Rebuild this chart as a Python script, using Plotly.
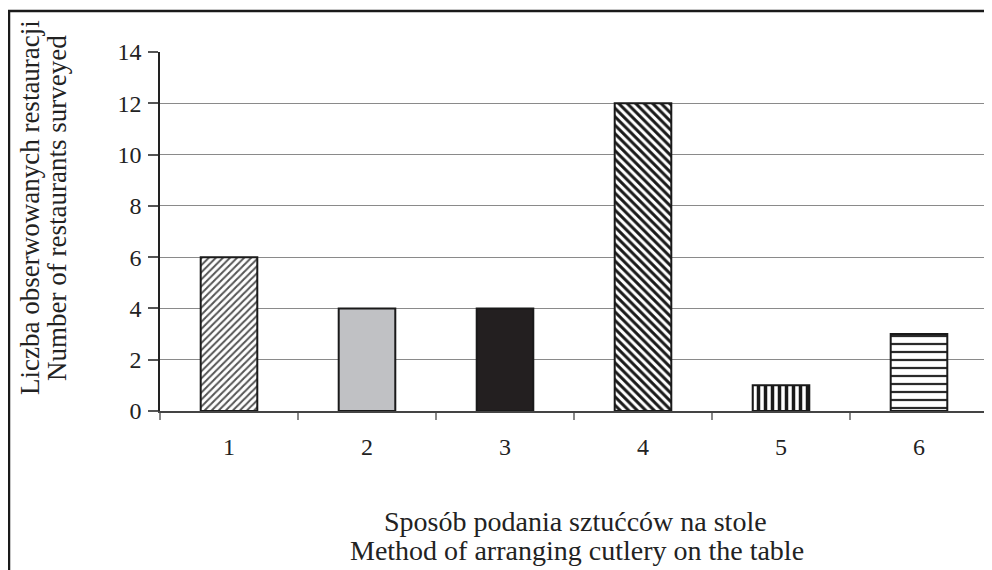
import plotly.graph_objects as go

categories = ["1", "2", "3", "4", "5", "6"]
values = [6, 4, 4, 12, 1, 3]
y_ticks = [0, 2, 4, 6, 8, 10, 12, 14]

pattern_shapes = ["/", "", "", "\\", "|", "-"]
pattern_sizes = [5, 8, 8, 6, 7, 8]
pattern_solidity = [0.4, 0.3, 0.3, 0.5, 0.5, 0.28]
pattern_fg = ["#555555", "#c0c1c4", "#231f20", "#1a1a1a", "#1a1a1a", "#2a2a2a"]
fill_colors = ["white", "#c0c1c4", "#231f20", "white", "white", "white"]

# page has an 8px body margin; figure coordinates are page coordinates minus 8
OFF = 8
W, H = 992 - OFF, 570 - OFF
L, T = 160 - OFF, 52 - OFF
Rpx, Bpx = 988 - OFF, 411 - OFF
pw, ph = Rpx - L, Bpx - T


def px_x(x):
    return (x - OFF - L) / pw


def px_y(y):
    return (Bpx - (y - OFF)) / ph


fig = go.Figure()
for c, v, s, sz, so, fg, fc in zip(categories, values, pattern_shapes, pattern_sizes,
                                   pattern_solidity, pattern_fg, fill_colors):
    fig.add_trace(go.Bar(
        x=[c], y=[v], width=0.41,
        marker=dict(
            color=fc,
            line=dict(color="#1a1a1a", width=2),
            pattern=dict(shape=s, size=sz, solidity=so, fgcolor=fg, fgopacity=1,
                         fillmode="overlay"),
        ),
        showlegend=False,
    ))

font = "Liberation Serif, Times New Roman, serif"
fig.update_layout(
    width=W, height=H,
    margin=dict(l=L, r=W - Rpx, t=T, b=H - Bpx, autoexpand=False),
    paper_bgcolor="white", plot_bgcolor="white",
    font=dict(family=font, size=24, color="#222222"),
    barmode="overlay",
    xaxis=dict(
        type="category", categoryorder="array", categoryarray=categories,
        showgrid=False, showline=True, linecolor="#444444", linewidth=2,
        ticks="outside", tickson="boundaries", ticklen=7, tickcolor="#888888", tickwidth=2,
        tickfont=dict(size=24), range=[-0.5, 5.5], ticklabelstandoff=13,
    ),
    yaxis=dict(
        range=[0, 14], tickvals=y_ticks, showgrid=True, gridcolor="#8a8a8a", gridwidth=1,
        showline=True, linecolor="#222222", linewidth=1.5,
        ticks="outside", ticklen=10, tickcolor="#555555", tickwidth=1.5,
        tickfont=dict(size=24), zeroline=False, ticklabelstandoff=2,
    ),
    shapes=[
        dict(type="rect", xref="paper", yref="paper", x0=px_x(9), x1=px_x(1010),
             y0=px_y(600), y1=px_y(11),
             line=dict(color="#1a1a1a", width=2.5), layer="below"),
        dict(type="line", xref="paper", yref="paper", x0=1, x1=1, y0=0, y1=1,
             line=dict(color="#8a8a8a", width=2)),
    ],
    annotations=[
        dict(text="Liczba obserwowanych restauracji",
             xref="paper", yref="paper", x=px_x(30), y=px_y(208), textangle=-90,
             showarrow=False, font=dict(size=27), xanchor="center", yanchor="middle"),
        dict(text="Number of restaurants surveyed",
             xref="paper", yref="paper", x=px_x(57), y=px_y(208), textangle=-90,
             showarrow=False, font=dict(size=27), xanchor="center", yanchor="middle"),
        dict(text="Sposób podania sztućców na stole",
             xref="paper", yref="paper", x=px_x(575), y=px_y(521),
             showarrow=False, font=dict(size=28), xanchor="center", yanchor="middle"),
        dict(text="Method of arranging cutlery on the table",
             xref="paper", yref="paper", x=px_x(577), y=px_y(550),
             showarrow=False, font=dict(size=28), xanchor="center", yanchor="middle"),
    ],
)

fig.write_html("out.html")
